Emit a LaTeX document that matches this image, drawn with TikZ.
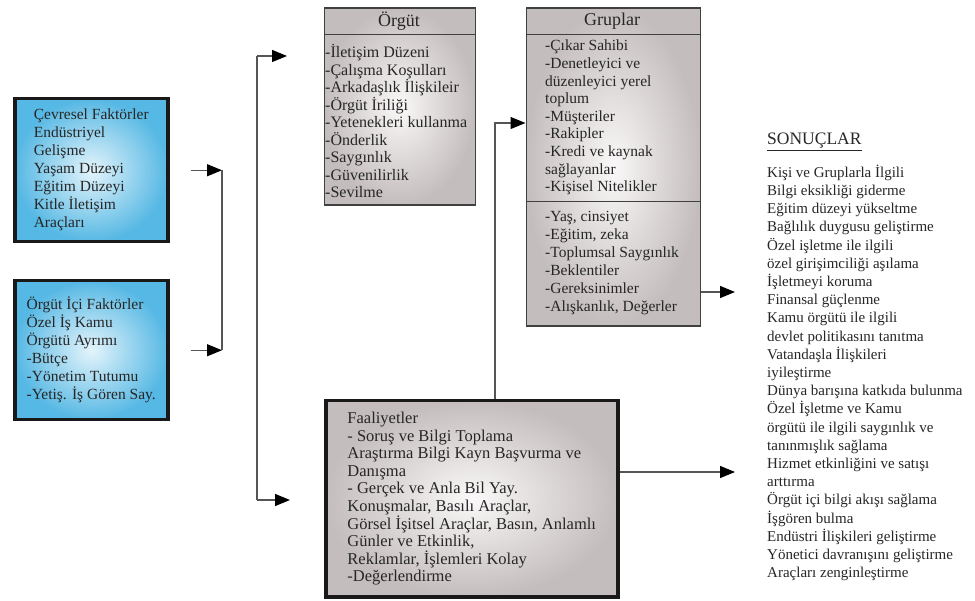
\documentclass[tikz,border=0pt]{standalone}
\usepackage{fontspec}
\setmainfont{Liberation Serif}
\usetikzlibrary{arrows.meta}
\definecolor{maviDis}{RGB}{86,184,228}
\definecolor{maviIc}{RGB}{228,244,251}
\definecolor{griDis}{RGB}{196,189,189}
\definecolor{griIc}{RGB}{250,248,248}
\definecolor{cizgi}{RGB}{85,85,85}

\begin{document}
\begin{tikzpicture}[x=1pt, y=-1pt, text=black!85,
  mavikutu/.style={draw=black!90, line width=3.5pt, inner color=maviIc,
    outer color=maviDis, anchor=north west, align=left,
    font=\fontsize{15.5}{18}\selectfont},
  grikutu/.style={draw=black!75, line width=1.3pt, inner color=griIc,
    outer color=griDis, anchor=north west, inner sep=0pt},
  kalinkutu/.style={grikutu, draw=black!90, line width=3.5pt, align=left,
    font=\fontsize{16.5}{17.6}\selectfont},
  yazi/.style={anchor=west, align=left, inner sep=0pt,
    font=\fontsize{15.5}{17.6}\selectfont},
  baslik/.style={font=\fontsize{18}{20}\selectfont},
  hat/.style={draw=cizgi, line width=1.2pt},
  ok/.style={hat, -{Triangle[length=15pt,width=12pt,color=black]}}]
\useasboundingbox (0,0) rectangle (975,601);

% girdiler
\path (13,97) node (cevre) [mavikutu, minimum width=153pt, minimum height=143pt]
  {Çevresel Faktörler\\Endüstriyel\\Gelişme\\Yaşam Düzeyi\\Eğitim Düzeyi\\
   Kitle İletişim\\Araçları};
\path (13,279) node (orgutici) [mavikutu, minimum width=153pt, minimum height=139pt]
  {Örgüt İçi Faktörler\\Özel İş Kamu\\Örgütü Ayrımı\\-Bütçe\\-Yönetim Tutumu\\
   -Yetiş. İş Gören Say.};

% orgut kutusu
\path (323.5,7.5) node (orgut) [grikutu, minimum width=151pt, minimum height=197pt] {};
\draw [draw=black!75, line width=1.3pt]
  ([yshift=-27pt]orgut.north west) -- ([yshift=-27pt]orgut.north east);
\path (399,21) node (orgutbaslik) [baslik] {Örgüt};
\path (325,121) node (orgutmadde) [yazi, font=\fontsize{16}{17.5}\selectfont]
  {-İletişim Düzeni\\-Çalışma Koşulları\\-Arkadaşlık İlişkileir\\-Örgüt İriliği\\
   -Yetenekleri kullanma\\-Önderlik\\-Saygınlık\\-Güvenilirlik\\-Sevilme};

% gruplar kutusu
\path (525.5,7.5) node (gruplar) [grikutu, minimum width=174pt, minimum height=318pt] {};
\draw [draw=black!75, line width=1.3pt]
  ([yshift=-27pt]gruplar.north west) -- ([yshift=-27pt]gruplar.north east);
\draw [draw=black!75, line width=1.3pt]
  ([yshift=-194pt]gruplar.north west) -- ([yshift=-194pt]gruplar.north east);
\path (612,21) node (gruplarbaslik) [baslik] {Gruplar};
\path (545,117.5) node (gruplarmadde) [yazi]
  {-Çıkar Sahibi\\-Denetleyici ve\\düzenleyici yerel\\toplum\\-Müşteriler\\
   -Rakipler\\-Kredi ve kaynak\\sağlayanlar\\-Kişisel Nitelikler};
\path (545,263.5) node (kisisel) [yazi, font=\fontsize{15.5}{18}\selectfont]
  {-Yaş, cinsiyet\\-Eğitim, zeka\\-Toplumsal Saygınlık\\-Beklentiler\\
   -Gereksinimler\\-Alışkanlık, Değerler};

% faaliyetler
\path (324,399) node (faaliyet) [kalinkutu, minimum width=292pt, minimum height=196pt]
  {Faaliyetler\\- Soruş ve Bilgi Toplama\\Araştırma Bilgi Kayn Başvurma ve\\
   Danışma\\- Gerçek ve Anla Bil Yay.\\Konuşmalar, Basılı Araçlar,\\
   Görsel İşitsel Araçlar, Basın, Anlamlı\\Günler ve Etkinlik,\\
   Reklamlar, İşlemleri Kolay\\-Değerlendirme};

% sonuclar
\path (767,142) node (sonucbaslik) [anchor=west, inner sep=0pt,
  font=\fontsize{17.5}{18}\selectfont] {\underline{SONUÇLAR}};
\path (767,373) node (sonucliste) [yazi, font=\fontsize{15}{18.2}\selectfont]
  {Kişi ve Gruplarla İlgili\\Bilgi eksikliği giderme\\Eğitim düzeyi yükseltme\\
   Bağlılık duygusu geliştirme\\Özel işletme ile ilgili\\
   özel girişimciliği aşılama\\İşletmeyi koruma\\Finansal güçlenme\\
   Kamu örgütü ile ilgili\\devlet politikasını tanıtma\\Vatandaşla İlişkileri\\
   iyileştirme\\Dünya barışına katkıda bulunma\\Özel İşletme ve Kamu\\
   örgütü ile ilgili saygınlık ve\\tanınmışlık sağlama\\
   Hizmet etkinliğini ve satışı\\arttırma\\Örgüt içi bilgi akışı sağlama\\
   İşgören bulma\\Endüstri İlişkileri geliştirme\\
   Yönetici davranışını geliştirme\\Araçları zenginleştirme};

% baglantilar
\coordinate (kol) at (222,168);
\coordinate (govdeust) at (257,56);
\coordinate (govdealt) at (257,500);
\coordinate (orgutuc) at (287,56);
\coordinate (faaliyetuc) at (290,500);
\coordinate (dirsek) at (495,123);
\coordinate (sonucok1) at (735,292);
\coordinate (sonucok2) at (735,472);

\draw [ok] ([xshift=21pt]cevre.east) -- (cevre.east -| kol);
\draw [ok] ([xshift=21pt]orgutici.east) -- (orgutici.east -| kol);
\draw [hat] (cevre.east -| kol) -- (orgutici.east -| kol);

\draw [hat] (govdeust) -- (govdealt);
\draw [ok] (govdeust) -- (orgutuc);
\draw [ok] (govdealt) -- (faaliyetuc);

\draw [ok] (dirsek |- faaliyet.north) -- (dirsek) -- (dirsek -| gruplar.west);
\draw [ok] (gruplar.east |- sonucok1) -- (sonucok1);
\draw [ok] (faaliyet.east |- sonucok2) -- (sonucok2);

\end{tikzpicture}
\end{document}
